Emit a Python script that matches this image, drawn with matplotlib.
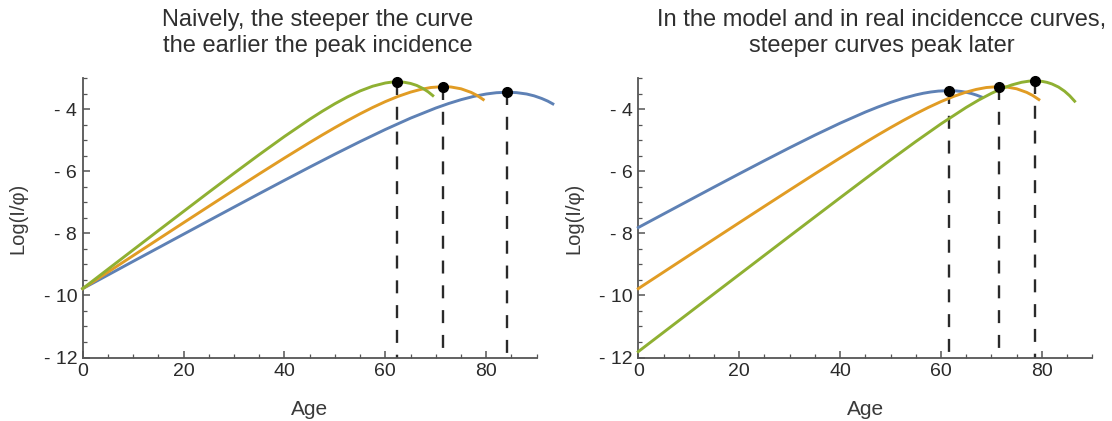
import matplotlib.pyplot as plt
import numpy as np
from matplotlib.ticker import FuncFormatter, MultipleLocator

plt.rcParams["font.family"] = ["Liberation Sans", "DejaVu Sans"]

# log incidence vs age
# left panel: same intercept, different slopes
left_green_age = [0, 5, 10, 15, 20, 25, 30, 35, 40, 45, 47.5, 50, 52.5, 55, 57.5, 60,
                  61.2, 62.4, 63.7, 65, 66.2, 67.5, 68.5, 69.4]
left_green_val = [-9.78, -9.155, -8.532, -7.91, -7.29, -6.672, -6.061, -5.46, -4.875,
                  -4.321, -4.062, -3.819, -3.599, -3.407, -3.254, -3.151,
                  -3.124, -3.115, -3.127, -3.166, -3.229, -3.332, -3.438, -3.557]

orange_age = [0, 5, 10, 15, 20, 25, 30, 35, 40, 45, 47.5, 50, 52.5, 55, 57.5, 60, 62.5,
              65, 67, 69, 71.5, 73, 75, 77, 78.2, 79.4]
orange_val = [-9.78, -9.248, -8.716, -8.185, -7.655, -7.127, -6.602, -6.081, -5.569,
              -5.069, -4.826, -4.59, -4.362, -4.144, -3.939, -3.751, -3.584,
              -3.445, -3.358, -3.297, -3.267, -3.280, -3.338, -3.454, -3.555, -3.685]

left_blue_age = [0, 5, 10, 15, 20, 25, 30, 35, 40, 45, 50, 55, 60, 65, 70, 72.5, 75,
                 77.5, 80, 82, 84.2, 86, 88, 89.5, 91, 92.2, 93.2]
left_blue_val = [-9.78, -9.341, -8.901, -8.463, -8.025, -7.588, -7.152, -6.718, -6.288,
                 -5.863, -5.445, -5.039, -4.649, -4.284, -3.958, -3.815, -3.689,
                 -3.584, -3.506, -3.465, -3.448, -3.462, -3.506, -3.566, -3.651, -3.736,
                 -3.825]

# right panel: steeper curves start lower
right_blue_age = [0, 5, 10, 15, 20, 25, 30, 35, 40, 45, 47.5, 50, 52.5, 55, 56.5, 58,
                  59.5, 61.5, 63, 64, 65, 66, 67, 68]
right_blue_val = [-7.81, -7.375, -6.941, -6.508, -6.079, -5.655, -5.238, -4.833, -4.447,
                  -4.089, -3.926, -3.777, -3.645, -3.536, -3.482, -3.441,
                  -3.412, -3.398, -3.406, -3.424, -3.451, -3.489, -3.539, -3.601]

right_green_age = [0, 5, 10, 15, 20, 25, 30, 35, 40, 45, 50, 55, 60, 65, 67.5, 70, 72,
                   74, 76, 77.5, 78.6, 80, 81, 82, 83.3, 84.5, 85.5, 86.5]
right_green_val = [-11.81, -11.189, -10.568, -9.947, -9.327, -8.707, -8.087, -7.469,
                   -6.852, -6.239, -5.633, -5.04, -4.469, -3.939, -3.699, -3.485, -3.336,
                   -3.215, -3.128, -3.091, -3.083, -3.098, -3.13, -3.182, -3.282, -3.415,
                   -3.56, -3.738]

BLUE = "#5E81B5"
ORANGE = "#E19C24"
GREEN = "#8FB032"
GREY = "#555555"

titles = ["Naively, the steeper the curve\nthe earlier the peak incidence",
          "In the model and in real incidencce curves,\nsteeper curves peak later"]

panels = [
    [(left_blue_age, left_blue_val, BLUE),
     (orange_age, orange_val, ORANGE),
     (left_green_age, left_green_val, GREEN)],
    [(right_blue_age, right_blue_val, BLUE),
     (orange_age, orange_val, ORANGE),
     (right_green_age, right_green_val, GREEN)],
]

fig = plt.figure(figsize=(11.12, 4.21), dpi=100)
ax_lefts = [82.7 / 1112, 638.3 / 1112]
title_x = [318 / 1112, 882 / 1112]


def minus_fmt(v, pos):
    # Mathematica style "- 4"
    if v < 0:
        return f"- {abs(int(round(v)))}"
    return f"{int(round(v))}"


for i, curves in enumerate(panels):
    ax = fig.add_axes([ax_lefts[i], (421 - 357.5) / 421, 454 / 1112, 279.2 / 421])

    for age, val, col in curves:
        ax.plot(age, val, color=col, lw=2.1, clip_on=False, zorder=3,
                solid_joinstyle="round")

    # dashed drop line and dot at each curve's peak
    for age, val, col in curves:
        k = int(np.argmax(val))
        ax.plot([age[k], age[k]], [val[k], -12], color="#2a2a2a", lw=1.7,
                linestyle=(0, (5.5, 5.0)), clip_on=False, zorder=2)
        ax.plot(age[k], val[k], "o", color="black", ms=7, clip_on=False, zorder=5)

    ax.set_xlim(0, 90)
    ax.set_ylim(-12, -3)

    for side in ["top", "right"]:
        ax.spines[side].set_visible(False)
    for side in ["left", "bottom"]:
        ax.spines[side].set_color(GREY)
        ax.spines[side].set_linewidth(1.3)

    ax.xaxis.set_major_locator(MultipleLocator(20))
    ax.xaxis.set_minor_locator(MultipleLocator(5))
    ax.yaxis.set_minor_locator(MultipleLocator(0.5))
    ax.set_yticks([-12, -10, -8, -6, -4])
    ax.yaxis.set_major_formatter(FuncFormatter(minus_fmt))

    ax.tick_params(which="major", direction="in", length=5, width=1.1, color=GREY,
                   labelsize=14, labelcolor="#2a2a2a", pad=4)
    ax.tick_params(which="minor", direction="in", length=3, width=0.9, color=GREY)

    ax.set_xlabel("Age", fontsize=15, color="#3a3a3a")
    ax.xaxis.set_label_coords(0.5, -0.188)
    ax.xaxis.label.set_va("center")
    ax.set_ylabel("Log(I/φ)", fontsize=14.5, color="#3a3a3a")
    ax.yaxis.set_label_coords(-0.1425, 0.5)
    ax.yaxis.label.set_va("center")

    fig.text(title_x[i], 1 - 33 / 421, titles[i], ha="center", va="center",
             fontsize=17, color="#2f2f2f", linespacing=1.2)

fig.savefig("out.png", dpi=100)
